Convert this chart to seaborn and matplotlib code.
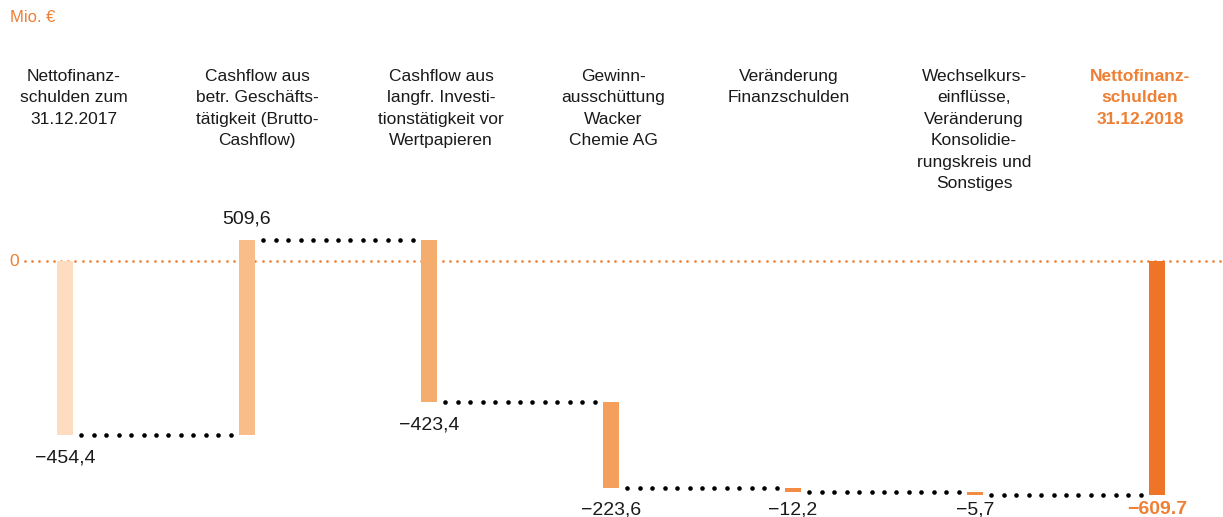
import pandas as pd
import seaborn as sns
import matplotlib.pyplot as plt
import numpy as np

# Data (Mio. €)
steps = ['start', 'cashflow', 'invest', 'dividend', 'fin_debt', 'fx', 'end']
labels = [
    'Nettofinanz-\nschulden zum\n31.12.2017',
    'Cashflow aus\nbetr. Geschäfts-\ntätigkeit (Brutto-\nCashflow)',
    'Cashflow aus\nlangfr. Investi-\ntionstätigkeit vor\nWertpapieren',
    'Gewinn-\nausschüttung\nWacker\nChemie AG',
    'Veränderung\nFinanzschulden',
    'Wechselkurs-\neinflüsse,\nVeränderung\nKonsolidie-\nrungskreis und\nSonstiges',
    'Nettofinanz-\nschulden\n31.12.2018',
]
changes = [-454.4, 509.6, -423.4, -223.6, -12.2, -5.7, -609.7]
value_text = ['\u2212454,4', '509,6', '\u2212423,4', '\u2212223,6', '\u221212,2', '\u22125,7', '\u2212609.7']
colors = ['#FDDCBF', '#F9BD89', '#F5AD6E', '#F59F5D', '#F28B45', '#F28B45', '#EE7427']

# waterfall: the last bar is the total, starting from 0
bottoms = [0.0] + list(np.cumsum(changes[:-2]))
bottoms.append(0.0)
ends = [b + c for b, c in zip(bottoms, changes)]
df = pd.DataFrame({'step': steps, 'change': changes, 'bottom': bottoms})

orange = '#EE7F33'
sns.set_theme(style='white')
plt.rcParams['font.family'] = ['Liberation Sans', 'DejaVu Sans']

fig = plt.figure(figsize=(12.23, 5.17), dpi=100)
ax = fig.add_axes([0, 0, 1, 1])

px = 1 / 182  # one pixel in x data units
w = 0.088
sns.barplot(data=df, x='step', y='change', bottom=df['bottom'].to_numpy(), width=w,
            color=colors[0], linewidth=0, errorbar=None, ax=ax, zorder=2)
for p, c in zip(ax.patches, colors):
    p.set_facecolor(c)

# dotted zero line
zx = np.arange(-40 * px, 6.45, 7.2 * px)
ax.plot(zx, np.zeros_like(zx), 'o', color=orange, ms=1.9, mew=0, zorder=1)
ax.text(-0.28, 0, '0', color=orange, fontsize=12.5, ha='center', va='center')

# dotted connectors between the bars
for i in range(len(steps) - 1):
    x0 = i + w / 2 + 8 * px
    x1 = i + 1 - w / 2 - 8 * px
    n = int(round((x1 - x0) / (12.5 * px))) + 1
    cx = np.linspace(x0, x1, n)
    ax.plot(cx, np.full(n, ends[i]), 'o', color='black', ms=3.3, mew=0, zorder=3)

# value labels
for i, (b, e, t) in enumerate(zip(bottoms, ends, value_text)):
    last = i == len(steps) - 1
    col = orange if last else '#1a1a1a'
    wt = 'bold' if last else 'normal'
    if changes[i] > 0:
        y = max(b, e) + 55
    else:
        y = max(min(b, e) - 60, -650)
    ax.text(i, y, t, ha='center', va='center', fontsize=14, color=col, fontweight=wt)

# category labels at the top
offsets = [9, 10, 12, 2, -4, -1, -17]
for i, (lab, off) in enumerate(zip(labels, offsets)):
    last = i == len(steps) - 1
    ax.annotate(lab, xy=(i, 1), xycoords=('data', 'axes fraction'),
                xytext=(off, -69), textcoords='offset pixels',
                ha='center', va='top', fontsize=12.5, linespacing=1.54,
                color=orange if last else '#1a1a1a',
                fontweight='bold' if last else 'normal')

fig.text(10 / 1223, 1 - 18 / 517, 'Mio. €', color=orange, fontsize=12, ha='left', va='center')

ax.set_xlim(-65 / 182, (1223 - 65) / 182)
ax.set_ylim(-668.4, 681.5)
ax.axis('off')

fig.savefig('out.png', dpi=100)
